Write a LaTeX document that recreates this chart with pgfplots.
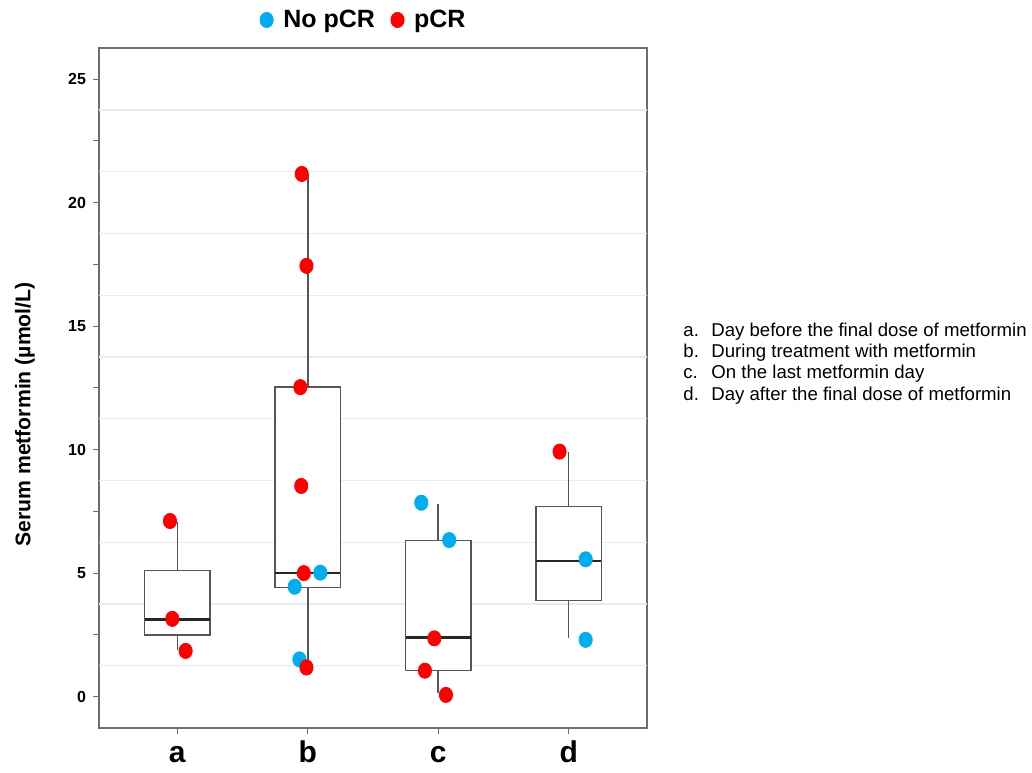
\documentclass[border=0pt]{standalone}
\usepackage{fontspec}
\setmainfont{Liberation Sans}
\usepackage{pgfplots}
\pgfplotsset{compat=1.18}
\usepgfplotslibrary{statistics}
\definecolor{nopcr}{RGB}{0,174,239}
\definecolor{pcr}{RGB}{255,0,0}
\definecolor{gridgray}{RGB}{235,235,235}
\definecolor{boxgray}{RGB}{85,85,85}
\definecolor{framegray}{RGB}{110,110,110}

\begin{document}
\begin{tikzpicture}
\path[use as bounding box] (-49.5pt,-22pt) rectangle (466.5pt,364pt);
\begin{axis}[
    at={(0pt,0pt)}, anchor=south west,
    scale only axis, width=274pt, height=340pt,
    xmin=0.4, xmax=4.6, ymin=-1.27, ymax=26.26,
    xtick={1,2,3,4}, xticklabels={a,b,c,d},
    ytick={0,5,...,25}, minor ytick={2.5,7.5,...,22.5},
    extra y ticks={1.25,3.75,...,23.75}, extra y tick labels={},
    extra y tick style={grid=major, major tick length=0pt},
    major grid style={draw=gridgray, line width=0.6pt},
    tick pos=left, tick align=outside,
    major tick length=3pt, minor tick length=3pt,
    tick style={draw=framegray, line width=0.6pt},
    axis line style={draw=framegray, line width=1pt},
    /pgf/number format/assume math mode=true,
    yticklabel style={font=\fontsize{8}{9}\selectfont\bfseries},
    xticklabel style={font=\fontsize{15}{18}\selectfont\bfseries, text height=10.9pt},
    boxplot/draw direction=y,
    boxplot/every median/.style={draw=black!85, line width=1.3pt},
    boxplot/every whisker/.style={draw=boxgray, line width=0.75pt},
    legend style={at={(0.485,1.0412)}, anchor=center, draw=none, fill=none,
        font=\fontsize{12.5}{14}\selectfont\bfseries, legend columns=2,
        /tikz/every odd column/.append style={column sep=3pt},
        /tikz/every even column/.append style={column sep=6pt}},
    legend image code/.code={\draw[#1] plot coordinates {(0pt,0pt)};},
]
  % boxes
  \addplot[forget plot, draw=boxgray, fill=white, line width=0.7pt,
    boxplot prepared={draw position=1, lower whisker=1.89, lower quartile=2.5,
      median=3.12, upper quartile=5.1, upper whisker=7.09,
      box extend=0.5, whisker extend=0}] coordinates {};
  \addplot[forget plot, draw=boxgray, fill=white, line width=0.7pt,
    boxplot prepared={draw position=2, lower whisker=1.18, lower quartile=4.43,
      median=5.0, upper quartile=12.53, upper whisker=21.12,
      box extend=0.5, whisker extend=0}] coordinates {};
  \addplot[forget plot, draw=boxgray, fill=white, line width=0.7pt,
    boxplot prepared={draw position=3, lower whisker=0.14, lower quartile=1.05,
      median=2.39, upper quartile=6.32, upper whisker=7.80,
      box extend=0.5, whisker extend=0}] coordinates {};
  \addplot[forget plot, draw=boxgray, fill=white, line width=0.7pt,
    boxplot prepared={draw position=4, lower whisker=2.36, lower quartile=3.89,
      median=5.49, upper quartile=7.69, upper whisker=9.92,
      box extend=0.5, whisker extend=0}] coordinates {};

  % points
  \addplot[only marks, mark=*, color=nopcr, mark size=3.8pt,
    mark options={xscale=0.87}] coordinates {
    (2.096,5.02) (1.90,4.45) (1.936,1.51)
    (2.87,7.85) (3.084,6.34)
    (4.13,5.56) (4.13,2.30)
  };
  \addlegendentry{No pCR}
  \addplot[only marks, mark=*, color=pcr, mark size=3.8pt,
    mark options={xscale=0.87}] coordinates {
    (0.944,7.11) (0.962,3.15) (1.064,1.85)
    (1.954,21.16) (1.99,17.44) (1.943,12.53) (1.95,8.53) (1.97,5.0) (1.99,1.18)
    (2.97,2.36) (2.898,1.05) (3.059,0.07)
    (3.93,9.92)
  };
  \addlegendentry{pCR}
\end{axis}

\node[rotate=90, font=\fontsize{10.6}{12}\selectfont\bfseries] at (-37pt,156.75pt) {Serum metformin (µmol/L)};

\begin{scope}[every node/.style={anchor=base west, inner sep=0pt, font=\fontsize{9.3}{11}\selectfont}]
  \node at (292pt,196pt) {a.};     \node at (306pt,196pt) {Day before the final dose of metformin};
  \node at (292pt,185.35pt) {b.};  \node at (306pt,185.35pt) {During treatment with metformin};
  \node at (292pt,174.7pt) {c.};   \node at (306pt,174.7pt) {On the last metformin day};
  \node at (292pt,164pt) {d.};     \node at (306pt,164pt) {Day after the final dose of metformin};
\end{scope}
\end{tikzpicture}
\end{document}
